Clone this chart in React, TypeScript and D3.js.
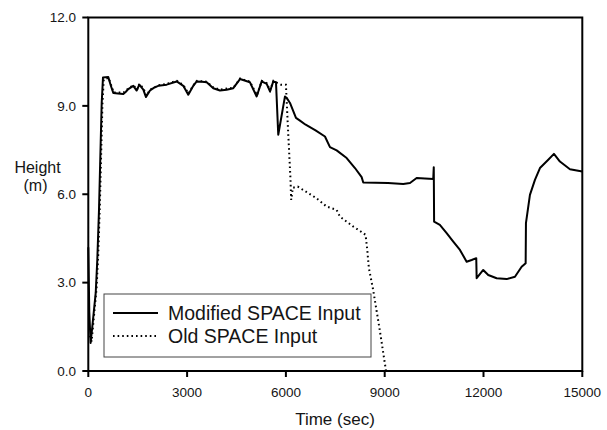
import React from "react";
import * as d3 from "d3";

const modTime = [0, 30, 70, 121, 225, 273, 325, 376, 407, 446, 607, 680, 759, 900, 1063, 1140, 1214, 1366, 1469, 1548, 1670, 1752, 1873, 2000, 2125, 2380, 2684, 2884, 3036, 3188, 3291, 3450, 3595, 3795, 3998, 4200, 4402, 4606, 4909, 5112, 5264, 5416, 5517, 5617, 5699, 5768, 5972, 6023, 6124, 6306, 6427, 6600, 6900, 7186, 7338, 7541, 7845, 8097, 8300, 8349, 9100, 9563, 9767, 9970, 10474, 10490, 10500, 10675, 10881, 11082, 11285, 11488, 11640, 11780, 11792, 11992, 12144, 12399, 12703, 12955, 13158, 13280, 13289, 13410, 13562, 13714, 13966, 14139, 14321, 14625, 15000];
const modHeight = [4.2, 2.0, 0.95, 1.5, 2.65, 3.77, 5.47, 7.75, 9.1, 9.96, 9.98, 9.7, 9.44, 9.42, 9.4, 9.48, 9.57, 9.68, 9.52, 9.72, 9.55, 9.3, 9.52, 9.62, 9.68, 9.72, 9.83, 9.68, 9.38, 9.68, 9.83, 9.82, 9.8, 9.6, 9.52, 9.55, 9.6, 9.91, 9.8, 9.32, 9.83, 9.75, 9.49, 9.83, 9.8, 8.02, 9.32, 9.27, 9.1, 8.59, 8.5, 8.36, 8.17, 7.96, 7.6, 7.49, 7.23, 6.89, 6.58, 6.4, 6.38, 6.35, 6.38, 6.55, 6.52, 6.92, 5.07, 4.96, 4.68, 4.39, 4.11, 3.71, 3.77, 3.83, 3.15, 3.43, 3.26, 3.15, 3.12, 3.2, 3.54, 3.66, 5.02, 5.98, 6.49, 6.89, 7.17, 7.37, 7.11, 6.85, 6.77];

const oldTime = [50, 100, 150, 250, 300, 350, 400, 430, 470, 620, 770, 1070, 1220, 1370, 1480, 1550, 1680, 1760, 1880, 2130, 2390, 2690, 2890, 3040, 3190, 3300, 3600, 3800, 4000, 4410, 4610, 4910, 5120, 5270, 5420, 5520, 5620, 5700, 5850, 6000, 6060, 6110, 6140, 6160, 6210, 6360, 6920, 7240, 7540, 7640, 8050, 8350, 8420, 8470, 8520, 8650, 8850, 9040];
const oldHeight = [1.2, 1.0, 1.6, 2.8, 3.9, 5.6, 7.8, 9.1, 9.9, 9.95, 9.45, 9.45, 9.6, 9.7, 9.55, 9.75, 9.58, 9.35, 9.55, 9.7, 9.75, 9.85, 9.7, 9.42, 9.7, 9.85, 9.82, 9.62, 9.55, 9.62, 9.93, 9.82, 9.36, 9.85, 9.77, 9.52, 9.85, 9.8, 9.72, 9.72, 8.3, 7.17, 6.49, 5.81, 6.22, 6.26, 5.87, 5.58, 5.47, 5.24, 4.9, 4.68, 4.62, 4.11, 3.49, 2.75, 1.39, 0];

const xTicks = [0, 3000, 6000, 9000, 12000, 15000];
const yTicks = [0, 3, 6, 9, 12];
const seriesNames = ["Modified SPACE Input", "Old SPACE Input"];

const W = 607, H = 430;
const L = 88.3, R = 582.3, T = 17.5, B = 371;
const FONT = "'Liberation Sans', Arial, sans-serif";
const TXT = "#151515";

export default function App() {
  const x = d3.scaleLinear().domain([0, 15000]).range([L, R]);
  const y = d3.scaleLinear().domain([0, 12]).range([B, T]);
  const line = d3.line<[number, number]>().x(d => x(d[0])).y(d => y(d[1]));
  const modPts = modTime.map((t, i) => [t, modHeight[i]] as [number, number]);
  const oldPts = oldTime.map((t, i) => [t, oldHeight[i]] as [number, number]);
  const fmt = d3.format(".1f");

  return (
    <svg width={W} height={H} style={{ position: "absolute", left: 0, top: 0, background: "#fff" }} fontFamily={FONT}>
      <rect x={0} y={0} width={W} height={H} fill="#fff" />
      <path d={line(oldPts) || ""} fill="none" stroke="#000" strokeWidth={2} strokeDasharray="1.6,3" />
      <path d={line(modPts) || ""} fill="none" stroke="#000" strokeWidth={2} strokeLinejoin="round" />
      <rect x={L} y={T} width={R - L} height={B - T} fill="none" stroke="#000" strokeWidth={2} />
      {yTicks.map(v => (
        <g key={"y" + v}>
          <line x1={L - 6} x2={L} y1={y(v)} y2={y(v)} stroke="#000" strokeWidth={2} />
          <text x={76} y={y(v)} dy="0.36em" textAnchor="end" fontSize={13.5} fill={TXT}>{fmt(v)}</text>
        </g>
      ))}
      {xTicks.map(v => (
        <g key={"x" + v}>
          <line x1={x(v)} x2={x(v)} y1={B} y2={B + 6} stroke="#000" strokeWidth={2} />
          <text x={x(v)} y={396.5} textAnchor="middle" fontSize={13.5} fill={TXT}>{v}</text>
        </g>
      ))}
      <text x={335} y={425} textAnchor="middle" fontSize={17} fill={TXT}>Time (sec)</text>
      <text x={37.5} y={172.5} textAnchor="middle" fontSize={16} fill={TXT}>Height</text>
      <text x={35.5} y={191} textAnchor="middle" fontSize={16} fill={TXT}>(m)</text>
      <rect x={104} y={294} width={267} height={63} fill="#fff" stroke="#444" strokeWidth={1} />
      <line x1={113} x2={158} y1={313} y2={313} stroke="#000" strokeWidth={2} />
      <line x1={113} x2={158} y1={336} y2={336} stroke="#000" strokeWidth={2} strokeDasharray="1.6,3" />
      <text x={168} y={313} dy="0.36em" fontSize={19.5} fill={TXT}>{seriesNames[0]}</text>
      <text x={168} y={336} dy="0.36em" fontSize={19.5} fill={TXT}>{seriesNames[1]}</text>
    </svg>
  );
}
